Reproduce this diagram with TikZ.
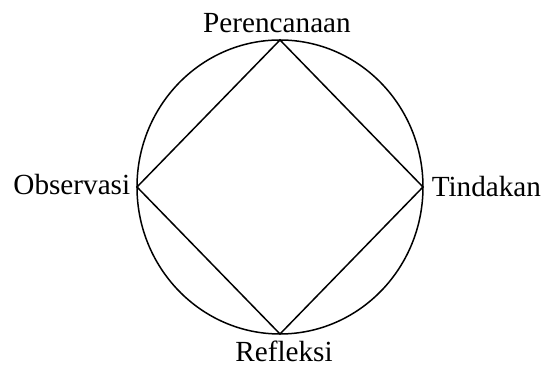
\documentclass[tikz,border=0pt]{standalone}
\usepackage{fontspec}
\setmainfont{Liberation Serif}
\begin{document}
\begin{tikzpicture}[x=0.5pt, y=-0.5pt, thick]
  \tikzset{label/.style={font=\fontsize{14.6}{17}\selectfont, inner sep=0pt}}
  \useasboundingbox (0,0) rectangle (543,367);
  \draw[line width=0.75pt] (280,187) ellipse [x radius=143, y radius=147];
  \coordinate (top) at (280,40);
  \coordinate (right) at (423,187);
  \coordinate (bottom) at (280,334);
  \coordinate (left) at (137,187);
  \draw[line width=0.75pt] (top) -- (right) -- (bottom) -- (left) -- cycle;
  \node[label, anchor=base] (plan) at (277,33) {Perencanaan};
  \node[label, anchor=base west] (act) at (431,197) {Tindakan};
  \node[label, anchor=base east] (obs) at (131,195) {Observasi};
  \node[label, anchor=base] (refl) at (284,362) {Refleksi};
\end{tikzpicture}
\end{document}
